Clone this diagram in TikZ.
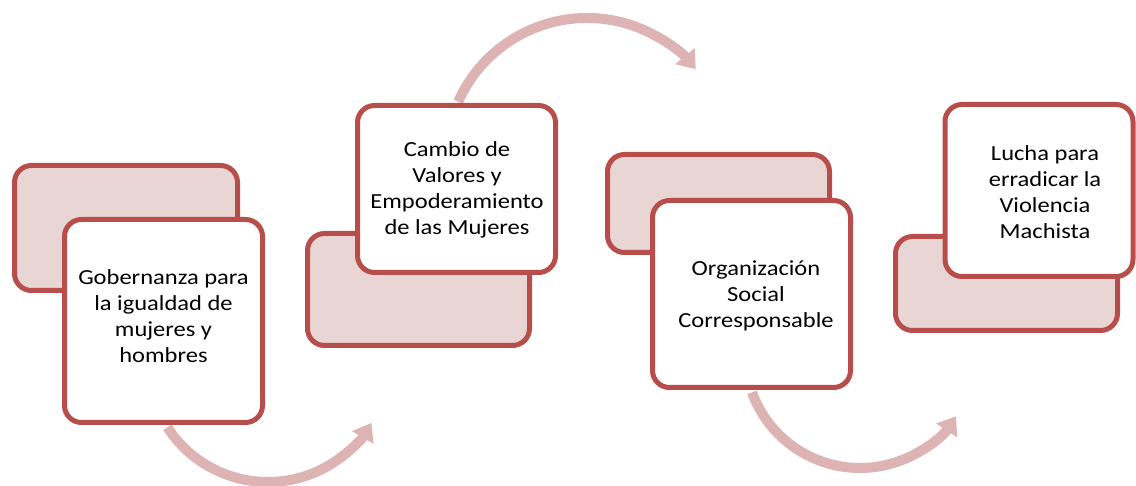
\documentclass[tikz,border=0pt]{standalone}
\usepackage{fontspec}
\setmainfont{Carlito}[FakeStretch=1.14]
\usetikzlibrary{arrows.meta}
\definecolor{boxborder}{HTML}{B84E4C}
\definecolor{pinkfill}{HTML}{EAD5D5}
\definecolor{arrowc}{HTML}{DDB3B3}
\begin{document}
\begin{tikzpicture}[x=1pt,y=-1pt,
  box/.style={draw=boxborder, line width=5pt, rounded corners=17pt, inner sep=0pt},
  backbox/.style={box, fill=pinkfill},
  frontbox/.style={box, fill=white},
  label/.style={align=center, font=\fontsize{21.5}{25.8}\selectfont, inner sep=0pt},
  flow/.style={draw=arrowc, line width=10pt, -{Triangle[length=17pt,width=24pt]}}]
\useasboundingbox (0,0) rectangle (1136,486);
\clip (0,0) rectangle (1136,486);
% arcs (behind boxes)
\path (268,362) ++(147:120) coordinate (a1s);
\path (587,159) ++(-156:141) coordinate (a2s);
\path (860,353) ++(160:115) coordinate (a3s);
\draw[flow] (a1s) arc[start angle=147, end angle=30.5, radius=120];
\draw[flow] (a2s) arc[start angle=-156, end angle=-39.5, radius=141];
\draw[flow] (a3s) arc[start angle=160, end angle=33.4, radius=115];
% group 1
\node[backbox, minimum width=223pt, minimum height=125pt] (b1) at (126,228) {};
\node[frontbox, minimum width=198pt, minimum height=203pt] (f1) at (163.5,321) {};
\node[label] (t1) at (163.5,316) {Gobernanza para\\la igualdad de\\mujeres y\\hombres};
% group 2
\node[backbox, minimum width=222pt, minimum height=112pt] (b2) at (418.5,289.5) {};
\node[frontbox, minimum width=198pt, minimum height=167pt] (f2) at (456.5,189) {};
\node[label] (t2) at (457,190) {Cambio de\\Valores y\\Empoderamiento\\de las Mujeres};
% group 3
\node[backbox, minimum width=222pt, minimum height=98pt] (b3) at (718.5,203.5) {};
\node[frontbox, minimum width=198pt, minimum height=187pt] (f3) at (751.5,294) {};
\node[label] (t3) at (756,296) {Organización\\Social\\Corresponsable};
% group 4
\node[backbox, minimum width=222pt, minimum height=94pt] (b4) at (1006.5,283.5) {};
\node[frontbox, minimum width=188pt, minimum height=172pt] (f4) at (1039,190.5) {};
\node[label] (t4) at (1045,192) {Lucha para\\erradicar la\\Violencia\\Machista};
\end{tikzpicture}
\end{document}
